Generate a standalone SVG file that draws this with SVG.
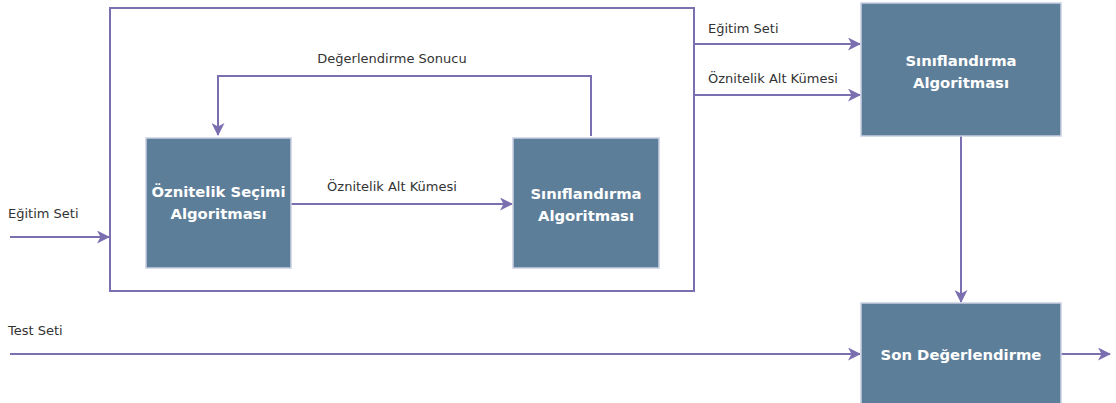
<svg xmlns="http://www.w3.org/2000/svg" width="1116" height="403" viewBox="0 0 1116 403">
  <style>
    .node { fill: #5d7e98; stroke: #c9d0e4; stroke-width: 1.5; }
    .ntext { fill: #ffffff; font-family: "DejaVu Sans", Verdana, sans-serif; font-size: 14.8px; font-weight: bold; text-anchor: middle; }
    .edge { fill: none; stroke: #7c6fb0; stroke-width: 2; }
    .lbl { fill: #333333; font-family: "DejaVu Sans", Verdana, sans-serif; font-size: 13px; }
    .frame { fill: none; stroke: #7c6fb0; stroke-width: 2; }
  </style>
  <defs>
    <marker id="arr" viewBox="0 0 13 13" refX="12" refY="6.5" markerWidth="13" markerHeight="13" markerUnits="userSpaceOnUse" orient="auto">
      <path d="M0,0 L13,6.5 L0,13 L3.5,6.5 Z" fill="#7c6fb0"/>
    </marker>
  </defs>
  <rect width="1116" height="403" fill="#ffffff"/>

  <!-- wrapper-style feature selection loop -->
  <rect id="wrapper" class="frame" x="110" y="8" width="584" height="283"/>

  <g id="connectors">
    <path class="edge" d="M10,237 L109,237" marker-end="url(#arr)"/>
    <path class="edge" d="M591,136 L591,76 L218,76 L218,135" marker-end="url(#arr)"/>
    <path class="edge" d="M291,204 L512,204" marker-end="url(#arr)"/>
    <path class="edge" d="M694,44 L860,44" marker-end="url(#arr)"/>
    <path class="edge" d="M694,95 L860,95" marker-end="url(#arr)"/>
    <path class="edge" d="M961,136 L961,302" marker-end="url(#arr)"/>
    <path class="edge" d="M10,354 L860,354" marker-end="url(#arr)"/>
    <path class="edge" d="M1061,354 L1110,354" marker-end="url(#arr)"/>
  </g>

  <g id="labels">
    <text class="lbl" x="8" y="218">Eğitim Seti</text>
    <text class="lbl" x="392" y="63" text-anchor="middle">Değerlendirme Sonucu</text>
    <text class="lbl" x="392" y="191" text-anchor="middle">Öznitelik Alt Kümesi</text>
    <text class="lbl" x="708" y="33">Eğitim Seti</text>
    <text class="lbl" x="708" y="83">Öznitelik Alt Kümesi</text>
    <text class="lbl" x="8" y="335">Test Seti</text>
  </g>

  <g id="feature-selection">
    <rect class="node" x="146" y="138" width="145" height="130"/>
    <text class="ntext" x="218.5" y="197">Öznitelik Seçimi</text>
    <text class="ntext" x="218.5" y="219">Algoritması</text>
  </g>

  <g id="inner-classifier">
    <rect class="node" x="513" y="138" width="146" height="130"/>
    <text class="ntext" x="586" y="199">Sınıflandırma</text>
    <text class="ntext" x="586" y="221">Algoritması</text>
  </g>

  <g id="classifier">
    <rect class="node" x="861" y="3" width="200" height="133"/>
    <text class="ntext" x="961" y="66">Sınıflandırma</text>
    <text class="ntext" x="961" y="88">Algoritması</text>
  </g>

  <g id="final-evaluation">
    <rect class="node" x="861" y="303" width="200" height="103"/>
    <text class="ntext" x="961" y="360">Son Değerlendirme</text>
  </g>
</svg>
